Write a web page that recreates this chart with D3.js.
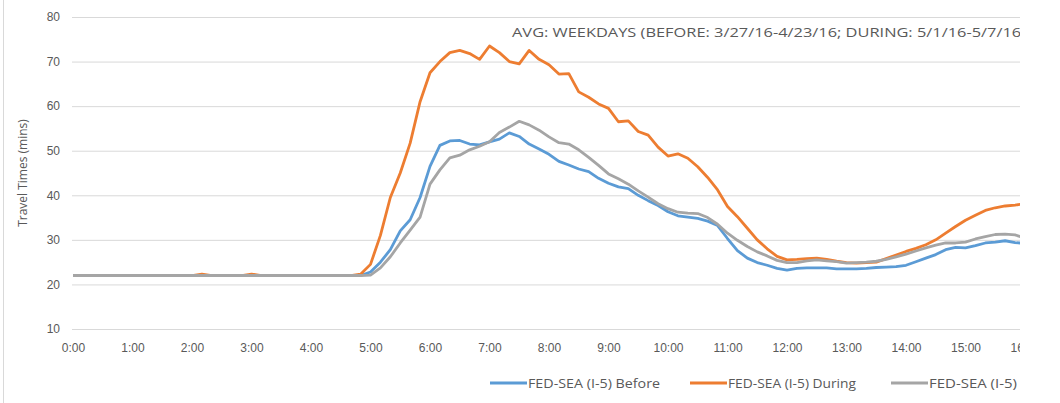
<!DOCTYPE html>
<html>
<head>
<meta charset="utf-8">
<script src="https://cdn.jsdelivr.net/npm/d3@7"></script>
<style>
  body { margin: 0; background: #fff; }
  svg { display: block; font-family: "Open Sans", "Noto Sans", sans-serif; }
</style>
</head>
<body>
<div id="chart"></div>
<script>
// samples every 10 minutes from 0:00 to 16:00
var stepMinutes = 10;

var seriesNames = ['FED-SEA (I-5) Before', 'FED-SEA (I-5) During', 'FED-SEA (I-5)'];
var seriesColors = ['#5b9bd5', '#ed7d31', '#a5a5a5'];

var before = [
  22, 22, 22, 22, 22, 22, 22, 22, 22, 22, 22, 22, 22, 22, 22, 22, 22, 22, 22, 22,
  22, 22, 22, 22, 22, 22, 22, 22, 22, 22,
  22.8, 25, 27.8, 32, 34.5, 39.5, 46.5, 51.2, 52.2, 52.3, 51.5, 51.3, 52, 52.6, 54, 53.2,
  51.5, 50.4, 49.2, 47.6, 46.8, 45.9, 45.3, 43.8, 42.7, 41.9, 41.5, 40, 38.8, 37.7, 36.3,
  35.4, 35.1, 34.8, 34.2, 33.2, 30.3, 27.6, 25.9, 24.9, 24.3, 23.6, 23.2, 23.6, 23.7, 23.7,
  23.7, 23.5, 23.5, 23.5, 23.6, 23.8, 23.9, 24, 24.3, 25.1, 25.9, 26.7, 27.8, 28.3, 28.2,
  28.7, 29.3, 29.5, 29.8, 29.4, 29.2
];

var during = [
  22, 22, 22, 22, 22, 22, 22, 22, 22, 22, 22, 22, 22, 22.3, 22, 22, 22, 22, 22.3, 22,
  22, 22, 22, 22, 22, 22, 22, 22, 22, 22.3,
  24.5, 31, 39.5, 45, 51.7, 61, 67.5, 70, 72, 72.5, 71.8, 70.5, 73.5, 72, 70, 69.5,
  72.5, 70.5, 69.3, 67.2, 67.3, 63.2, 62, 60.5, 59.5, 56.5, 56.7, 54.3, 53.5, 50.8, 48.8,
  49.3, 48.3, 46.4, 44, 41.2, 37.5, 35.2, 32.6, 30, 28, 26.3, 25.5, 25.6, 25.8, 25.9,
  25.6, 25.2, 24.9, 24.8, 24.9, 25, 25.8, 26.6, 27.4, 28.1, 28.9, 30, 31.5, 33, 34.4,
  35.5, 36.6, 37.2, 37.6, 37.8, 38.1
];

var baseline = [
  22, 22, 22, 22, 22, 22, 22, 22, 22, 22, 22, 22, 22, 22, 22, 22, 22, 22, 22, 22,
  22, 22, 22, 22, 22, 22, 22, 22, 22, 22,
  22.1, 23.7, 26.2, 29.3, 32.2, 35.1, 42.5, 45.7, 48.4, 49, 50.2, 51, 52, 54.1, 55.3, 56.6,
  55.8, 54.6, 53.1, 51.8, 51.5, 50.2, 48.5, 46.7, 44.8, 43.7, 42.5, 41, 39.6, 38.1, 37,
  36.2, 36, 35.9, 35, 33.5, 31.5, 29.9, 28.5, 27.3, 26.4, 25.4, 24.9, 24.9, 25.3, 25.5,
  25.3, 25.1, 24.8, 24.9, 25, 25.2, 25.6, 26.2, 26.8, 27.5, 28.2, 28.8, 29.3, 29.3, 29.5,
  30.2, 30.7, 31.2, 31.3, 31.1, 30.4
];

var yTicks = [10, 20, 30, 40, 50, 60, 70, 80];
var xTickLabels = ['0:00', '1:00', '2:00', '3:00', '4:00', '5:00', '6:00', '7:00', '8:00',
  '9:00', '10:00', '11:00', '12:00', '13:00', '14:00', '15:00', '16:00'];

var subtitle = 'AVG: WEEKDAYS (BEFORE: 3/27/16-4/23/16; DURING: 5/1/16-5/7/16)';

var width = 1060, height = 403;
var clipRight = 1020; // the source picture is cut off here
var textColor = '#595959';

var svg = d3.select('#chart').append('svg').attr('width', width).attr('height', height);

svg.append('defs').append('clipPath').attr('id', 'cut')
  .append('rect').attr('x', 0).attr('y', 0).attr('width', clipRight).attr('height', height);

var g = svg.append('g').attr('clip-path', 'url(#cut)');

// left border of the chart area
g.append('line').attr('x1', 3.5).attr('x2', 3.5).attr('y1', 0).attr('y2', height)
  .attr('stroke', '#d9d9d9');

var x = d3.scaleLinear().domain([0, 16 * 60]).range([73, 1025]);
var y = d3.scaleLinear().domain([10, 80]).range([329, 17]);

// gridlines + y labels
var yAxis = g.append('g').attr('transform', 'translate(72,0)')
  .call(d3.axisLeft(y).tickValues(yTicks).tickSize(-(clipRight - 72)).tickPadding(12));
yAxis.select('.domain').remove();
yAxis.selectAll('.tick line').attr('stroke', '#d9d9d9');
yAxis.selectAll('.tick text').attr('fill', textColor).style('font-size', '12px');

var xAxis = g.append('g').attr('transform', 'translate(0,329)')
  .call(d3.axisBottom(x)
    .tickValues(xTickLabels.map(function(d, i) { return i * 60; }))
    .tickFormat(function(d, i) { return xTickLabels[i]; })
    .tickSize(0).tickPadding(14));
xAxis.select('.domain').remove();
xAxis.selectAll('.tick text').attr('fill', textColor).style('font-size', '12px');

g.append('text')
  .attr('transform', 'translate(27,173) rotate(-90)')
  .attr('text-anchor', 'middle')
  .attr('fill', textColor)
  .style('font-size', '12px')
  .text('Travel Times (mins)');

g.append('text')
  .attr('x', 512).attr('y', 37)
  .attr('fill', textColor)
  .attr('textLength', 514)
  .attr('lengthAdjust', 'spacingAndGlyphs')
  .style('font-size', '13px')
  .text(subtitle);

var line = d3.line()
  .x(function(d, i) { return x(i * stepMinutes); })
  .y(function(d) { return y(d); });

var allSeries = [before, during, baseline];
g.selectAll('path.series')
  .data(allSeries)
  .enter()
  .append('path')
  .attr('class', 'series')
  .attr('d', line)
  .attr('fill', 'none')
  .attr('stroke', function(d, i) { return seriesColors[i]; })
  .attr('stroke-width', 2.8)
  .attr('stroke-linejoin', 'round');

// legend
var legendX = [490, 690, 891];
var legendTextWidth = [132, 128, 88];
var legend = g.selectAll('g.legend')
  .data(seriesNames)
  .enter()
  .append('g')
  .attr('class', 'legend')
  .attr('transform', function(d, i) { return 'translate(' + legendX[i] + ',383)'; });
legend.append('line')
  .attr('x1', 0).attr('x2', 37).attr('y1', 0).attr('y2', 0)
  .attr('stroke', function(d, i) { return seriesColors[i]; })
  .attr('stroke-width', 2.8);
legend.append('text')
  .attr('x', 38).attr('y', 4.5)
  .attr('fill', textColor)
  .attr('textLength', function(d, i) { return legendTextWidth[i]; })
  .attr('lengthAdjust', 'spacingAndGlyphs')
  .style('font-size', '12.5px')
  .text(function(d) { return d; });
</script>
</body>
</html>
